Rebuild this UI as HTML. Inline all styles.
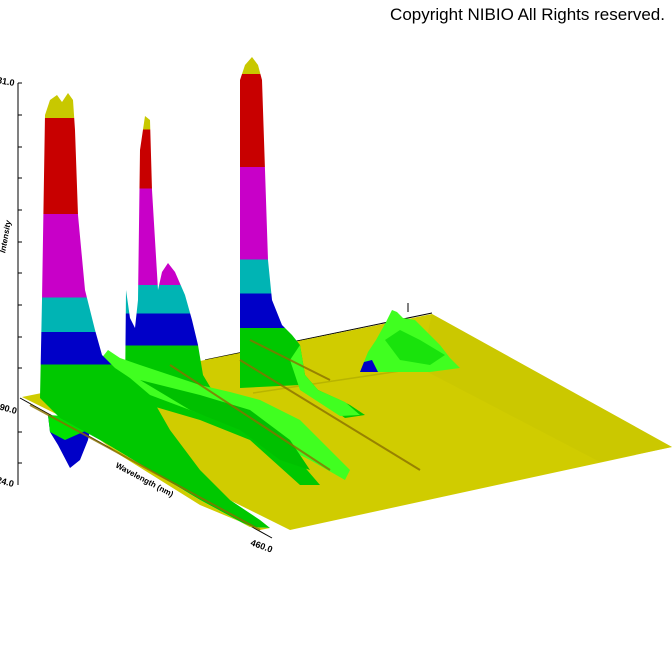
<!DOCTYPE html>
<html><head><meta charset="utf-8"><style>
html,body{margin:0;padding:0;background:#fff;width:672px;height:672px;overflow:hidden}
svg{display:block}
</style></head><body>
<svg width="672" height="672" viewBox="0 0 672 672" xmlns="http://www.w3.org/2000/svg" font-family="Liberation Sans, sans-serif">
<defs>
<linearGradient id="g1" gradientUnits="userSpaceOnUse" x1="0" y1="90" x2="0" y2="400">
<stop offset="0" stop-color="#c8c800"/><stop offset="0.09" stop-color="#c8c800"/>
<stop offset="0.09" stop-color="#c80000"/><stop offset="0.4" stop-color="#c80000"/>
<stop offset="0.4" stop-color="#c800c8"/><stop offset="0.67" stop-color="#c800c8"/>
<stop offset="0.67" stop-color="#00b4b4"/><stop offset="0.78" stop-color="#00b4b4"/>
<stop offset="0.78" stop-color="#0000c8"/><stop offset="0.885" stop-color="#0000c8"/>
<stop offset="0.885" stop-color="#00c800"/><stop offset="1" stop-color="#00c800"/>
</linearGradient>
<linearGradient id="g2" gradientUnits="userSpaceOnUse" x1="0" y1="112" x2="0" y2="400">
<stop offset="0" stop-color="#c8c800"/><stop offset="0.06" stop-color="#c8c800"/>
<stop offset="0.06" stop-color="#c80000"/><stop offset="0.265" stop-color="#c80000"/>
<stop offset="0.265" stop-color="#c800c8"/><stop offset="0.6" stop-color="#c800c8"/>
<stop offset="0.6" stop-color="#00b4b4"/><stop offset="0.7" stop-color="#00b4b4"/>
<stop offset="0.7" stop-color="#0000c8"/><stop offset="0.81" stop-color="#0000c8"/>
<stop offset="0.81" stop-color="#00c800"/><stop offset="1" stop-color="#00c800"/>
</linearGradient>
<linearGradient id="g3" gradientUnits="userSpaceOnUse" x1="0" y1="57" x2="0" y2="400">
<stop offset="0" stop-color="#c8c800"/><stop offset="0.05" stop-color="#c8c800"/>
<stop offset="0.05" stop-color="#c80000"/><stop offset="0.32" stop-color="#c80000"/>
<stop offset="0.32" stop-color="#c800c8"/><stop offset="0.59" stop-color="#c800c8"/>
<stop offset="0.59" stop-color="#00b4b4"/><stop offset="0.69" stop-color="#00b4b4"/>
<stop offset="0.69" stop-color="#0000c8"/><stop offset="0.79" stop-color="#0000c8"/>
<stop offset="0.79" stop-color="#00c800"/><stop offset="1" stop-color="#00c800"/>
</linearGradient>
</defs>
<text x="665" y="20" font-size="17" text-anchor="end" fill="#000">Copyright NIBIO All Rights reserved.</text>
<!-- axes -->
<g stroke="#000" stroke-width="1" fill="none">
<line x1="18" y1="83" x2="18" y2="485"/>
<path d="M18 83h4M18 115h4M18 147h4M18 178h4M18 210h4M18 242h4M18 273h4M18 305h4M18 337h4M18 368h4M18 432h4M18 463h4"/>
<line x1="205" y1="360" x2="432" y2="313"/>
<line x1="408" y1="303" x2="408" y2="312"/>
<line x1="20" y1="398" x2="272" y2="538"/>
</g>
<text x="14" y="86" font-size="9" font-weight="bold" text-anchor="end" transform="rotate(10 14 86)">31.0</text>
<text x="8" y="237" font-size="8" font-weight="bold" font-style="italic" text-anchor="middle" transform="rotate(-80 8 237)">Intensity</text>
<text x="16" y="414" font-size="9" font-weight="bold" text-anchor="end" transform="rotate(15 16 414)">190.0</text>
<text x="13" y="487" font-size="9" font-weight="bold" text-anchor="end" transform="rotate(15 13 487)">24.0</text>
<text x="115" y="467" font-size="8" font-weight="bold" transform="rotate(28 115 467)">Wavelength (nm)</text>
<text x="250" y="545" font-size="9" font-weight="bold" transform="rotate(20 250 545)">460.0</text>
<!-- blue dip below plane -->
<polygon points="48,415 50,432 58,445 70,468 80,460 88,440 92,420" fill="#0000c8"/>
<polygon points="48,415 50,432 65,440 92,428 92,418" fill="#00e000"/>
<!-- plane -->
<polygon points="22,397 290,530 672,447 432,314" fill="#d0cc00"/>
<polygon points="420,368 432,314 672,447 600,462" fill="#c8c400" opacity="0.6"/>
<line x1="253" y1="393" x2="420" y2="368" stroke="#b8b400" stroke-width="1.5"/>
<!-- back small peak -->
<polygon points="360,372 368,352 376,340 386,322 392,310 397,312 403,318 415,320 425,330 440,345 450,358 460,368 430,372" fill="#40ff20"/>
<polygon points="385,340 400,330 420,340 445,355 430,365 400,360" fill="#00d000" opacity="0.6"/>
<polygon points="360,372 364,362 372,360 378,372" fill="#0000c8"/>
<!-- peak 3 -->
<polygon points="240,388 240,80 245,65 252,57 258,65 262,80 265,170 268,260 272,300 282,325 292,335 300,345 305,375 318,390 340,400 350,405 365,415 345,418 300,385" fill="url(#g3)"/>
<polygon points="300,345 305,375 318,390 345,402 360,415 340,416 300,390 290,360" fill="#40ff20"/>
<!-- peak 2 -->
<polygon points="125,398 126,290 130,318 135,328 138,300 140,150 145,116 150,120 152,190 155,240 158,290 162,272 168,263 175,272 185,295 192,320 198,345 203,375 212,390 230,395 245,398 260,412 290,450 320,485 300,485 250,440 200,420" fill="url(#g2)"/>
<!-- green/lime middle region -->
<polygon points="100,360 108,350 120,358 140,365 170,375 200,385 230,392 260,400 300,420 330,450 350,470 345,480 310,460 270,440 230,425 190,410 150,395 110,385" fill="#40ff20"/>
<polygon points="140,380 200,395 250,410 290,440 310,470 280,460 240,430 190,410" fill="#00c000"/>
<!-- peak 1 -->
<polygon points="40,398 42,300 45,115 50,100 57,95 62,102 68,93 73,100 75,130 78,215 85,290 95,330 102,355 115,368 130,378 150,395 170,430 200,470 230,500 260,520 270,528 250,527 200,500 150,470 100,440 60,418" fill="url(#g1)"/>
<polygon points="100,440 150,470 200,500 250,527 270,528 260,530 200,505 120,455" fill="#d0cc00"/>
<!-- brown stripes -->
<g stroke="#8a7000" stroke-width="2" opacity="0.8">
<line x1="30" y1="405" x2="260" y2="530"/>
<line x1="170" y1="365" x2="330" y2="470"/>
<line x1="240" y1="360" x2="420" y2="470"/>
<line x1="250" y1="340" x2="330" y2="380"/>
</g>
</svg>
</body></html>
